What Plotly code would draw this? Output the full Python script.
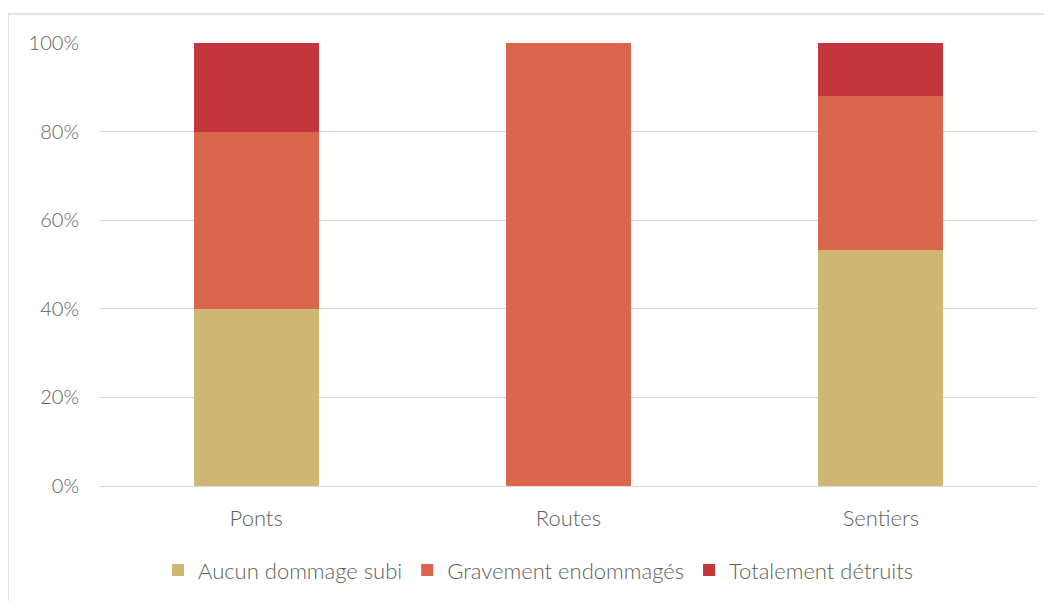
import plotly.graph_objects as go

categories = ["Ponts", "Routes", "Sentiers"]
aucun = [40, 0, 53.3]
gravement = [40, 100, 34.7]
totalement = [20, 0, 12.0]

series = [
    ("Aucun dommage subi", aucun, "#CFB873"),
    ("Gravement endommagés", gravement, "#D9664D"),
    ("Totalement détruits", totalement, "#C3363D"),
]

fig = go.Figure()
for name, vals, color in series:
    fig.add_trace(go.Bar(
        x=categories, y=vals, name=name,
        marker=dict(color=color, line=dict(width=0)),
        hoverinfo="skip",
    ))

fig.update_layout(
    barmode="stack",
    bargap=0.6,
    width=1052, height=601,
    margin=dict(l=92, r=23, t=35, b=123),
    paper_bgcolor="white", plot_bgcolor="white",
    font=dict(family="Lato", size=21, color="#5f5f5f", weight=300),
    showlegend=True,
    legend=dict(orientation="h", traceorder="normal", x=0.468, xanchor="center",
                y=-0.19, yanchor="middle",
                font=dict(size=22, color="#5f5f5f", weight=300), itemwidth=30),
    xaxis=dict(showgrid=False, showline=True, linecolor="#d9d9d9", linewidth=1,
               ticks="", ticklabelstandoff=13, tickfont=dict(size=22, weight=300)),
    yaxis=dict(range=[0, 100], tickvals=[0, 20, 40, 60, 80, 100],
               ticktext=["0%", "20%", "40%", "60%", "80%", "100%"],
               showgrid=True, gridcolor="#d9d9d9", gridwidth=1,
               zeroline=False, ticks="", ticklabelstandoff=20,
               tickfont=dict(size=20, weight=300)),
    shapes=[dict(type="rect", xref="paper", yref="paper",
                 x0=-0.0982, x1=1.2, y0=-0.6, y1=1.0655,
                 line=dict(color="#d9d9d9", width=1.5), layer="below")],
)

fig.write_html("out.html")
